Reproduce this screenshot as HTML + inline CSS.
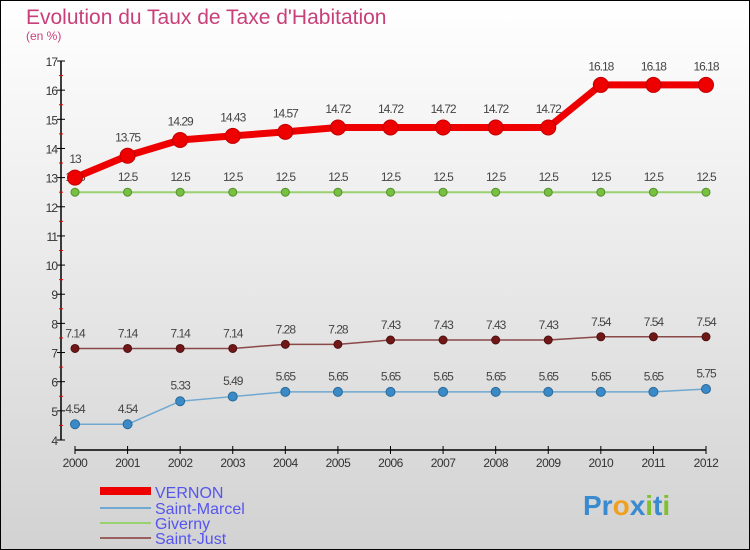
<!DOCTYPE html>
<html><head><meta charset="utf-8"><style>
body{margin:0;width:750px;height:550px;overflow:hidden}
svg{display:block;font-family:"Liberation Sans",sans-serif}
</style></head><body>
<svg id="c" width="750" height="550">
<defs><linearGradient id="bg" x1="0" y1="0" x2="0" y2="1"><stop offset="0" stop-color="#ffffff"/><stop offset="1" stop-color="#d2d2d2"/></linearGradient></defs>
<rect x="0.5" y="0.5" width="749" height="549" fill="url(#bg)" stroke="#000"/>
<text x="26" y="24" font-size="21" fill="#c8407a">Evolution du Taux de Taxe d'Habitation</text>
<text x="26" y="40" font-size="12" fill="#c8407a">(en %)</text>
<g id="axes"></g><g id="series"></g>
<g>
<rect x="100" y="487" width="51" height="8" fill="#ee0000"/>
<text x="155" y="498" font-size="16" fill="#5555ee">VERNON</text>
<rect x="100" y="507" width="51" height="2" fill="#6fa8d0"/>
<text x="155" y="514" font-size="16" fill="#5555ee">Saint-Marcel</text>
<rect x="100" y="522" width="51" height="2" fill="#99d070"/>
<text x="155" y="529" font-size="16" fill="#5555ee">Giverny</text>
<rect x="100" y="537" width="51" height="2" fill="#9a6060"/>
<text x="155" y="544" font-size="16" fill="#5555ee">Saint-Just</text>
</g>
<text x="583" y="515" font-size="28" font-weight="bold"><tspan fill="#3a8ad0">Pr</tspan><tspan fill="#f0a020">o</tspan><tspan fill="#3a8ad0">x</tspan><tspan fill="#80c030">i</tspan><tspan fill="#3a8ad0">t</tspan><tspan fill="#80c030">i</tspan></text>
</svg>
<script>
const years=[2000,2001,2002,2003,2004,2005,2006,2007,2008,2009,2010,2011,2012];
const vernon=[13,13.75,14.29,14.43,14.57,14.72,14.72,14.72,14.72,14.72,16.18,16.18,16.18];
const saintMarcel=[4.54,4.54,5.33,5.49,5.65,5.65,5.65,5.65,5.65,5.65,5.65,5.65,5.75];
const giverny=[12.5,12.5,12.5,12.5,12.5,12.5,12.5,12.5,12.5,12.5,12.5,12.5,12.5];
const saintJust=[7.14,7.14,7.14,7.14,7.28,7.28,7.43,7.43,7.43,7.43,7.54,7.54,7.54];
const yTicks=[4,5,6,7,8,9,10,11,12,13,14,15,16,17];
const NS="http://www.w3.org/2000/svg";
const xs=i=>75+i*(706-75)/12;
const ys=v=>440-(v-4)*(440-61)/13;
function mk(t,a,p){const e=document.createElementNS(NS,t);for(const k in a)e.setAttribute(k,a[k]);p.appendChild(e);return e;}
const ax=document.getElementById('axes');
const yl=mk('line',{x1:61,y1:61,x2:61,y2:440,stroke:'#000','stroke-width':1.5},ax);


const xl=mk('line',{x1:75,y1:450,x2:706,y2:450,stroke:'#000','stroke-width':1.5},ax);


yTicks.forEach(v=>{
 mk('line',{x1:57,x2:65,y1:ys(v),y2:ys(v),stroke:'#000'},ax);
 if(v<17)mk('line',{x1:59,x2:63,y1:ys(v+0.5),y2:ys(v+0.5),stroke:'#e00'},ax);
 const t=mk('text',{x:57,y:ys(v)+5,'font-size':12,'text-anchor':'end',fill:'#333','letter-spacing':'-1'},ax);
 t.textContent=v;
 
 
});
years.forEach((y,i)=>{
 mk('line',{x1:xs(i),x2:xs(i),y1:446,y2:454,stroke:'#000'},ax);
 const t=mk('text',{x:xs(i),y:467,'font-size':12,'text-anchor':'middle',fill:'#333','letter-spacing':'-0.5'},ax);
 t.textContent=y;
 
 
});
const sg=document.getElementById('series');
function series(vals,name,color,w,r,dot,dotStroke){
 const g=mk('g',{},sg);
 
 
 const pts=vals.map((v,i)=>xs(i)+','+ys(v)).join(' ');
 mk('polyline',{points:pts,fill:'none',stroke:color,'stroke-width':w,'stroke-linejoin':'round'},g);
 vals.forEach((v,i)=>{
  const c=mk('circle',{cx:xs(i),cy:ys(v),r:r,fill:dot,stroke:dotStroke,'stroke-width':1},g);
  
  
  const t=mk('text',{x:xs(i),y:ys(v)-(r+7),'font-size':12,'text-anchor':'middle',fill:'#444','letter-spacing':'-1'},g);
  t.textContent=v;
  
  
 });
}
series(giverny,'giverny','#99d070',2,4,'#77c040','#559030');
series(saintJust,'saint-just','#8a4848',1.5,4,'#701818','#501010');
series(saintMarcel,'saint-marcel','#6fa8d0',1.5,4.5,'#3a8ac8','#2a6a98');
series(vernon,'vernon','#ee0000',7,7.5,'#ee0000','#c00000');
</script>
</body></html>
